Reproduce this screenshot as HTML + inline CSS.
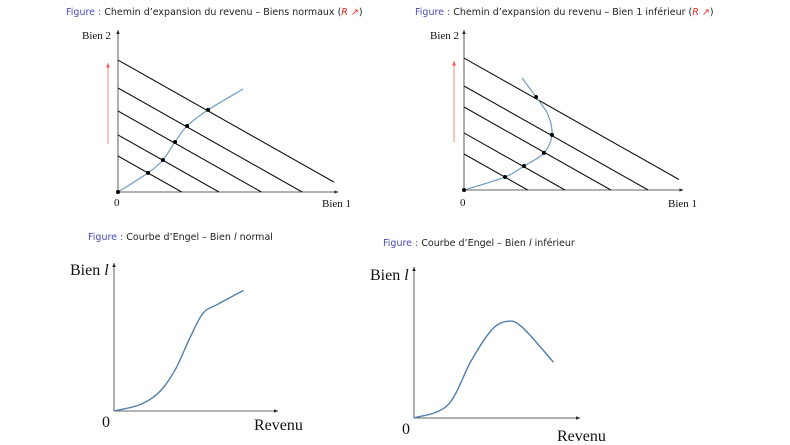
<!DOCTYPE html>
<html><head><meta charset="utf-8"><style>
html,body{margin:0;padding:0;background:#fff;}
svg{display:block;}
.t{font-family:"DejaVu Sans","Liberation Sans",sans-serif;font-size:9.5px;fill:#222;}
.fig{fill:#4b4bc0;}
.lab{font-family:"Liberation Serif",serif;fill:#111;}
</style></head><body>
<svg id="svg" width="790" height="445" viewBox="0 0 790 445">
<defs><marker id="ah" markerWidth="6" markerHeight="6" refX="5" refY="3" orient="auto"><path d="M0,0.8 L5,3 L0,5.2 z" fill="#222"/></marker>
<marker id="ahr" markerWidth="6" markerHeight="6" refX="5" refY="3" orient="auto"><path d="M0,0.8 L5,3 L0,5.2 z" fill="#f55"/></marker></defs>

<text class="t" x="66" y="15"><tspan class="fig">Figure :</tspan> Chemin d’expansion du revenu – Biens normaux (<tspan fill="#e22" font-style="italic">R ↗</tspan>)</text>
<text class="t" x="415" y="15"><tspan class="fig">Figure :</tspan> Chemin d’expansion du revenu – Bien 1 inférieur (<tspan fill="#e22" font-style="italic">R ↗</tspan>)</text>
<text class="t" x="88" y="240"><tspan class="fig">Figure :</tspan> Courbe d’Engel – Bien <tspan font-style="italic">l</tspan> normal</text>
<text class="t" x="383" y="246"><tspan class="fig">Figure :</tspan> Courbe d’Engel – Bien <tspan font-style="italic">l</tspan> inférieur</text>

<g id="p1"></g>
<g id="p2"></g>
<g id="p3"></g>
<g id="p4"></g>
</svg>
<script>
// Panel 1 data (fraction of plot area)
const budgetIntercepts1 = [0.2, 0.317, 0.45, 0.578, 0.733];
const expansionX1 = [0, 0.139, 0.208, 0.264, 0.32, 0.417, 0.579];
const expansionY1 = [0, 0.106, 0.178, 0.278, 0.367, 0.456, 0.572];
const dotsX1 = [0.139, 0.208, 0.264, 0.32, 0.417];
const dotsY1 = [0.106, 0.178, 0.278, 0.367, 0.456];
// Panel 2 data
const budgetIntercepts2 = [0.2, 0.317, 0.461, 0.578, 0.733];
const expansionX2 = [0, 0.191, 0.279, 0.372, 0.409, 0.39, 0.335, 0.27];
const expansionY2 = [0, 0.072, 0.133, 0.206, 0.306, 0.42, 0.517, 0.622];
const dotsX2 = [0.191, 0.279, 0.372, 0.409, 0.335];
const dotsY2 = [0.072, 0.133, 0.206, 0.306, 0.517];
// Engel curves
const engelX1 = [0, 0.16, 0.28, 0.38, 0.47, 0.55, 0.64, 0.80];
const engelY1 = [0, 0.05, 0.15, 0.33, 0.58, 0.77, 0.84, 0.95];
const engelX2 = [0, 0.2, 0.34, 0.46, 0.55, 0.64, 0.83];
const engelY2 = [0, 0.10, 0.45, 0.69, 0.76, 0.72, 0.44];

const NS="http://www.w3.org/2000/svg";
function mk(tag,attrs,parent){const e=document.createElementNS(NS,tag);for(const k in attrs)e.setAttribute(k,attrs[k]);parent.appendChild(e);return e;}
function smooth(pts){let d="M"+pts[0][0]+","+pts[0][1];for(let i=0;i<pts.length-1;i++){const p0=pts[i-1]||pts[i],p1=pts[i],p2=pts[i+1],p3=pts[i+2]||p2;d+=" C"+(p1[0]+(p2[0]-p0[0])/6)+","+(p1[1]+(p2[1]-p0[1])/6)+" "+(p2[0]-(p3[0]-p1[0])/6)+","+(p2[1]-(p3[1]-p1[1])/6)+" "+p2[0]+","+p2[1];}return d;}

function axes(g,ox,oy,xe,yt,ylab,xlab,lx,ly,xlx,xly,zx,zy,fs){
  const ya=mk('line',{x1:ox,y1:oy,x2:ox,y2:yt,stroke:'#333','stroke-width':0.8,'marker-end':'url(#ah)'},g);
  
  
  const xa=mk('line',{x1:ox,y1:oy,x2:xe,y2:oy,stroke:'#333','stroke-width':0.8,'marker-end':'url(#ah)'},g);
  
  
  const t1=mk('text',{x:lx,y:ly,class:'lab','font-size':fs},g);t1.innerHTML=ylab;
  
  
  const t2=mk('text',{x:xlx,y:xly,class:'lab','font-size':fs},g);t2.textContent=xlab;
  
  
  const t3=mk('text',{x:zx,y:zy,class:'lab','font-size':fs},g);t3.textContent='0';
  
  
}

function expansion(id,ox,oy,W,H,ints,ex,ey,dx,dy,arrowX,lab){
  const g=document.getElementById(id);
  const sx=v=>ox+v*W, sy=v=>oy-v*H;
  axes(g,ox,oy,ox+W*1.02,30,'Bien 2','Bien 1',lab[0],39,lab[1],207,ox-4,206,11);
  const slope=0.565;
  ints.forEach((b,i)=>{
    const y0=sy(b);const dyp=oy-y0;const xEnd=ox+dyp/slope;
    let x2=xEnd,y2=oy;
    if(xEnd>ox+W){x2=ox+W;y2=y0+slope*W;}
    const l=mk('line',{x1:ox,y1:y0,x2:x2,y2:y2,stroke:'#111','stroke-width':1.1},g);
    
    
  });
  const p=mk('path',{d:smooth(ex.map((v,i)=>[sx(v),sy(ey[i])])),fill:'none',stroke:'#6f9cc4','stroke-width':1.2},g);
  
  
  const o=mk('circle',{cx:ox,cy:oy,r:2,fill:'#000'},g);
  
  
  dx.forEach((v,i)=>{
    const c=mk('circle',{cx:sx(v),cy:sy(dy[i]),r:2,fill:'#000'},g);
    
    
  });
  const a=mk('line',{x1:arrowX,y1:oy-48,x2:arrowX,y2:sy(ints[4])+3,stroke:'#f77','stroke-width':0.9,'marker-end':'url(#ahr)'},g);
  
  
}
expansion('p1',118,192,216,180,budgetIntercepts1,expansionX1,expansionY1,dotsX1,dotsY1,108,[82,322]);
expansion('p2',464,190,215,180,budgetIntercepts2,expansionX2,expansionY2,dotsX2,dotsY2,454,[430,668]);

function engel(id,ox,oy,W,H,xe,yt,xs,ys,lab){
  const g=document.getElementById(id);
  axes(g,ox,oy,xe,yt,'Bien <tspan font-style="italic">l</tspan>','Revenu',lab[0],lab[1],lab[2],lab[3],ox-12,oy+16,16);
  const p=mk('path',{d:smooth(xs.map((v,i)=>[ox+v*W,oy-ys[i]*H])),fill:'none',stroke:'#4f7fae','stroke-width':1.4},g);
  
  
}
engel('p3',114,411,162,127,278,263,engelX1,engelY1,[70,275,254,430]);
engel('p4',414,418,168,127,580,267,engelX2,engelY2,[370,280,557,441]);
</script>
</body></html>
